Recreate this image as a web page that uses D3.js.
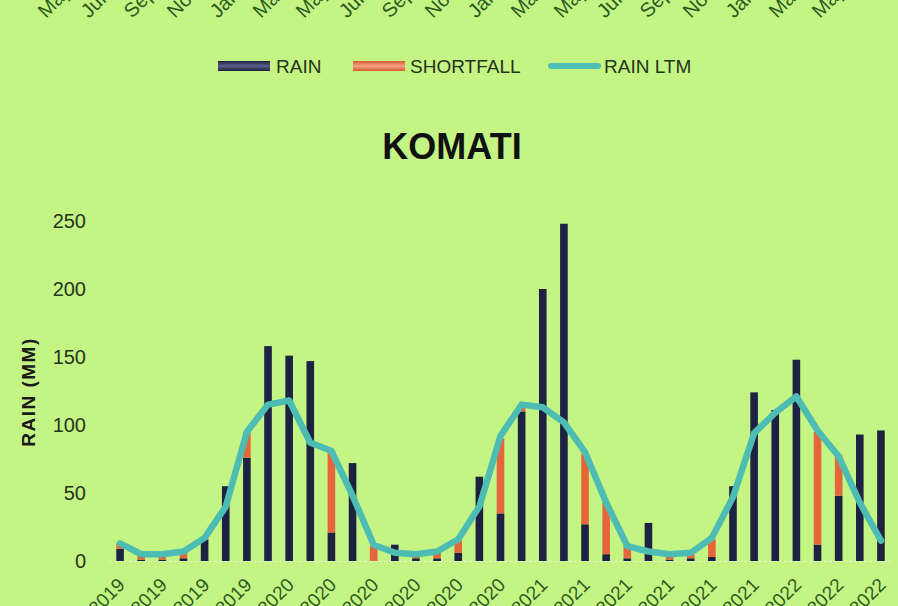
<!DOCTYPE html>
<html>
<head>
<meta charset="utf-8">
<script src="https://cdn.jsdelivr.net/npm/d3@7"></script>
<style>
  html, body { margin: 0; padding: 0; background: #c4f584; }
  svg { display: block; }
</style>
</head>
<body>
<svg id="chart" width="898" height="606"></svg>
<script>
// ---- data ----
const categories = ["May-2019","Jun-2019","Jul-2019","Aug-2019","Sep-2019","Oct-2019","Nov-2019","Dec-2019",
  "Jan-2020","Feb-2020","Mar-2020","Apr-2020","May-2020","Jun-2020","Jul-2020","Aug-2020","Sep-2020","Oct-2020","Nov-2020","Dec-2020",
  "Jan-2021","Feb-2021","Mar-2021","Apr-2021","May-2021","Jun-2021","Jul-2021","Aug-2021","Sep-2021","Oct-2021","Nov-2021","Dec-2021",
  "Jan-2022","Feb-2022","Mar-2022","Apr-2022","May-2022"];
const rain =      [9,1,1,2,16,55,76,158,151,147,21,72,0,12,2,2,6,62,35,110,200,248,27,5,2,28,1,2,3,55,124,111,148,12,48,93,96];
const shortfall = [4,4,4,5,1,0,19,0,0,0,60,0,11,0,3,5,9,0,55,4,0,0,52,38,9,0,4,4,13,0,0,0,0,83,30,0,0];
const rainLTM =   [13,5,5,7,17,40,95,115,118,87,81,48,12,6,5,7,16,40,92,115,113,102,80,43,11,7,5,6,17,47,94,109,121,96,77,43,15];
const yTicks = [0,50,100,150,200,250];
// labels of the chart above (cut off at top of picture)
const prevLabels = ["May-2019","Jul-2019","Sep-2019","Nov-2019","Jan-2020","Mar-2020","May-2020","Jul-2020","Sep-2020","Nov-2020",
  "Jan-2021","Mar-2021","May-2021","Jul-2021","Sep-2021","Nov-2021","Jan-2022","Mar-2022","May-2022"];
const title = "KOMATI";
const yTitle = "RAIN (MM)";
const legendItems = ["RAIN","SHORTFALL","RAIN LTM"];

// ---- styles ----
const colRain = "#1d2242", colShort = "#e4663a", colLine = "#4dbcb3", txtCol = "#26331c";
const font = "'Liberation Sans', Arial, sans-serif";

const svg = d3.select("#chart");
const rows = categories.map((c,i)=>({cat:c, rain:rain[i], shortfall:shortfall[i], ltm:rainLTM[i]}));

const x = d3.scaleBand().domain(categories).range([109.5, 891.5]).paddingInner(0.64).paddingOuter(0.32);
const y = d3.scaleLinear().domain([0,250]).range([561, 221]);

// previous chart's cut-off labels at top
svg.append("g").selectAll("text").data(prevLabels).join("text")
  .attr("transform",(d,i)=>`translate(${46 + i*43},19) rotate(-45)`)
  .attr("font-family", font).attr("font-size",20).attr("fill","#2b5a1e")
  .text(d=>d);

// legend
const lg = svg.append("g").attr("font-family", font).attr("font-size",19).attr("fill",txtCol);
const defs = svg.append("defs");
const g1 = defs.append("linearGradient").attr("id","gRain").attr("x1",0).attr("y1",0).attr("x2",0).attr("y2",1);
g1.append("stop").attr("offset","0").attr("stop-color","#1a1e3a");
g1.append("stop").attr("offset","0.5").attr("stop-color","#5a5f8c");
g1.append("stop").attr("offset","1").attr("stop-color","#1a1e3a");
const g2 = defs.append("linearGradient").attr("id","gShort").attr("x1",0).attr("y1",0).attr("x2",0).attr("y2",1);
g2.append("stop").attr("offset","0").attr("stop-color","#d65a30");
g2.append("stop").attr("offset","0.5").attr("stop-color","#f4a584");
g2.append("stop").attr("offset","1").attr("stop-color","#d65a30");
lg.append("rect").attr("x",218).attr("y",61).attr("width",52).attr("height",10).attr("fill","url(#gRain)");
lg.append("text").attr("x",276).attr("y",73).text(legendItems[0]);
lg.append("rect").attr("x",353).attr("y",61).attr("width",52).attr("height",10).attr("fill","url(#gShort)");
lg.append("text").attr("x",410).attr("y",73).text(legendItems[1]);
lg.append("line").attr("x1",551).attr("x2",598).attr("y1",66).attr("y2",66)
  .attr("stroke",colLine).attr("stroke-width",6).attr("stroke-linecap","round");
lg.append("text").attr("x",604).attr("y",73).text(legendItems[2]);

// title
svg.append("text").attr("x",452).attr("y",159).attr("text-anchor","middle")
  .attr("font-family",font).attr("font-weight","bold").attr("font-size",36).attr("fill","#111")
  .text(title);

// y axis title
svg.append("text").attr("transform","translate(35,392) rotate(-90)").attr("text-anchor","middle")
  .attr("font-family",font).attr("font-weight","bold").attr("font-size",19).attr("letter-spacing",1.5)
  .attr("fill","#1a1a1a").text(yTitle);

// y axis
const yAxis = svg.append("g").attr("transform","translate(86,0)")
  .call(d3.axisLeft(y).tickValues(yTicks).tickSize(0).tickPadding(0));
yAxis.select(".domain").remove();
yAxis.selectAll("text").attr("font-family",font).attr("font-size",20).attr("fill",txtCol);

// baseline
svg.append("line").attr("x1",109).attr("x2",891).attr("y1",y(0)+0.5).attr("y2",y(0)+0.5)
  .attr("stroke","#e3f7cf").attr("stroke-width",1.2).attr("stroke-dasharray","3,2");

// stacked bars
const stack = d3.stack().keys(["rain","shortfall"])(rows);
const colors = {rain:colRain, shortfall:colShort};
svg.append("g").selectAll("g").data(stack).join("g")
  .attr("fill",d=>colors[d.key])
  .selectAll("rect").data(d=>d).join("rect")
  .attr("x",d=>x(d.data.cat)).attr("width",x.bandwidth())
  .attr("y",d=>y(d[1])).attr("height",d=>Math.max(0,y(d[0])-y(d[1])));

// LTM line
const line = d3.line().x(d=>x(d.cat)+x.bandwidth()/2).y(d=>y(d.ltm));
svg.append("path").datum(rows).attr("d",line).attr("fill","none")
  .attr("stroke",colLine).attr("stroke-width",6.5).attr("stroke-linejoin","round").attr("stroke-linecap","round");

// x axis labels (every other month), cut off at bottom
const xl = svg.append("g").attr("font-family",font).attr("font-size",19).attr("fill","#2b5a1e");
xl.selectAll("text").data(categories.filter((d,i)=>i%2===0)).join("text")
  .attr("text-anchor","end")
  .attr("transform",d=>`translate(${x(d)+x.bandwidth()/2+6},586) rotate(-45)`)
  .text(d=>d);
</script>
</body>
</html>
